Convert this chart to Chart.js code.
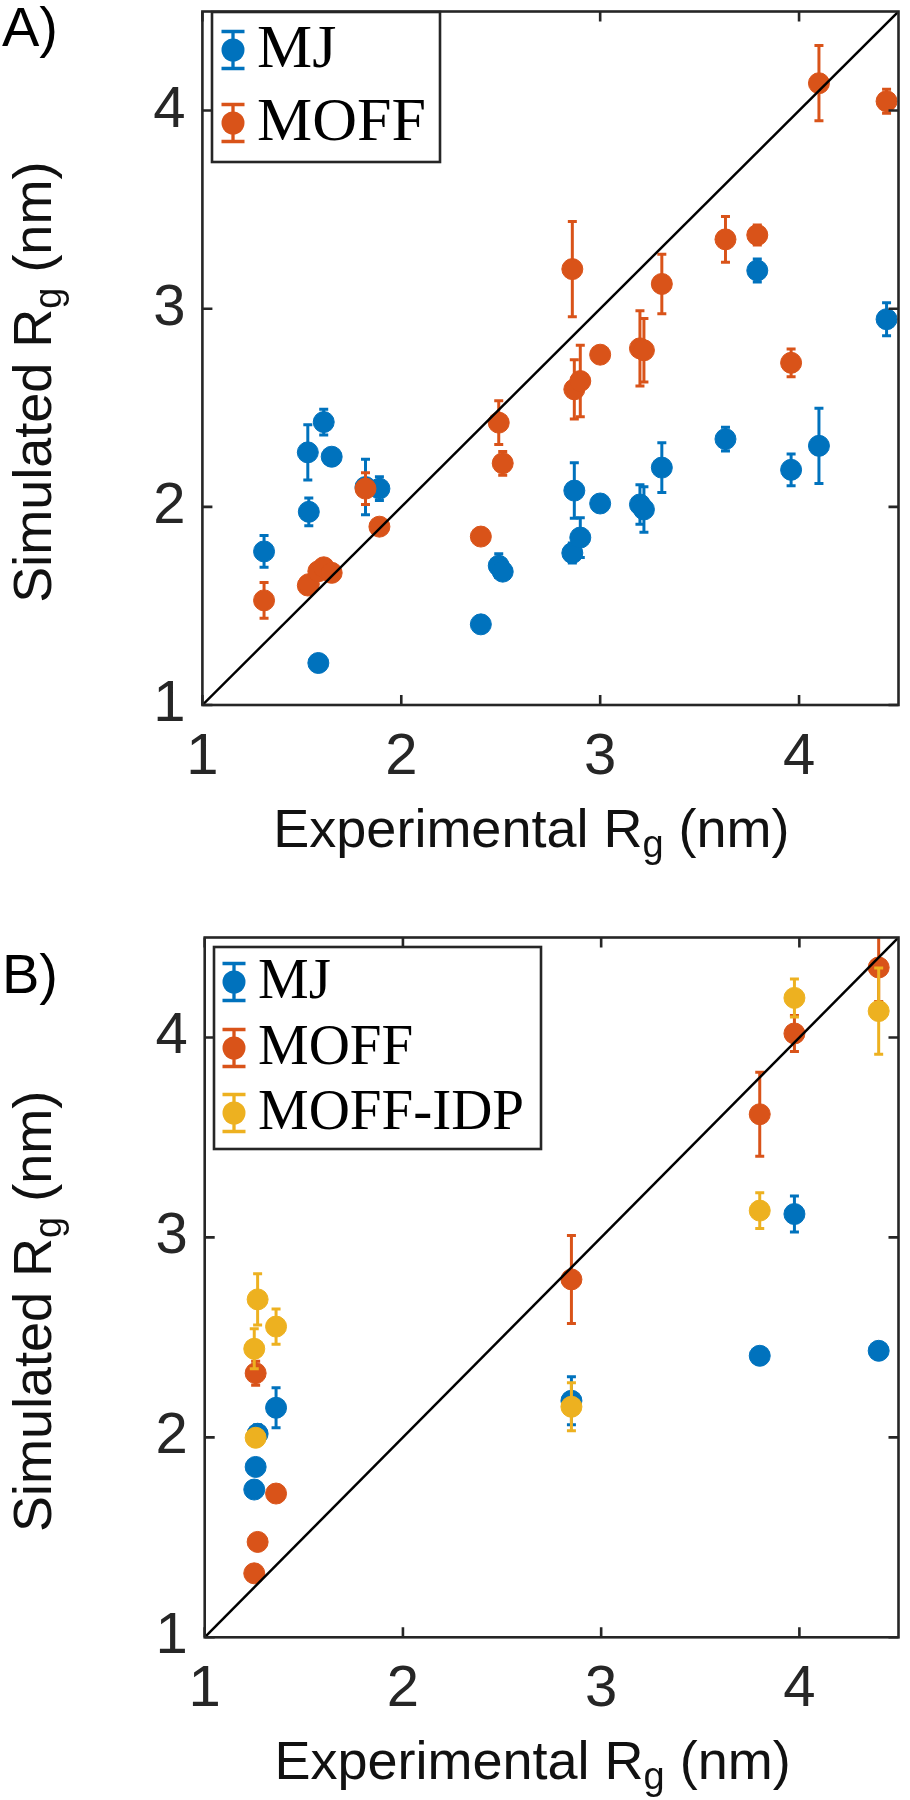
<!DOCTYPE html>
<html>
<head>
<meta charset="utf-8">
<script src="https://cdn.jsdelivr.net/npm/chart.js@4.4.1/dist/chart.umd.min.js"></script>
<style>
body { margin: 0; background: #fff; }
canvas { display: block; }
</style>
</head>
<body>
<canvas id="chartA" width="910" height="900"></canvas>
<canvas id="chartB" width="910" height="900"></canvas>
<script>

// ---- panel A: experimental vs simulated Rg (nm), two force fields ----
const expA     = [1.31, 1.53, 1.535, 1.583, 1.61, 1.65, 1.82, 1.89, 2.40, 2.49, 2.51, 2.86, 2.87, 2.90, 3.00, 3.20, 3.22, 3.31, 3.63, 3.79, 3.96, 4.10, 4.44];
const mjA      = [1.775, 2.275, 1.975, 1.212, 2.428, 2.253, 2.10, 2.092, 1.407, 1.703, 1.673, 1.767, 2.082, 1.845, 2.017, 2.012, 1.987, 2.198, 2.342, 3.193, 2.187, 2.308, 2.947];
const mjErrA   = [0.08, 0.14, 0.07, 0.03, 0.065, 0.03, 0.14, 0.06, 0.03, 0.06, 0.04, 0.05, 0.14, 0.10, 0.03, 0.10, 0.115, 0.125, 0.06, 0.058, 0.08, 0.19, 0.083];
const moffA    = [1.528, 1.603, 1.61, 1.675, 1.695, 1.667, 2.092, 1.90, 1.85, 2.425, 2.22, 3.20, 2.593, 2.635, 2.768, 2.80, 2.79, 3.125, 3.35, 3.372, 2.727, 4.138, 4.047];
const moffErrA = [0.09, 0.03, 0.03, 0.03, 0.03, 0.03, 0.08, 0.03, 0.03, 0.11, 0.06, 0.24, 0.15, 0.18, 0.04, 0.19, 0.16, 0.15, 0.115, 0.05, 0.07, 0.19, 0.06];

// ---- panel B: IDP set, three force fields ----
const expB     = [1.25, 1.257, 1.267, 1.36, 2.85, 3.80, 3.975, 4.40];
const mjB      = [1.739, 1.852, 2.018, 2.148, 2.183, 2.408, 3.117, 2.433];
const mjErrB   = [0.03, 0.03, 0.045, 0.10, 0.12, 0.035, 0.09, 0.035];
const moffB    = [1.32, 2.321, 1.477, 1.719, 2.79, 3.616, 4.02, 4.35];
const moffErrB = [0.03, 0.06, 0.03, 0.03, 0.22, 0.21, 0.09, 0.17];
const idpB     = [2.443, 1.998, 2.69, 2.554, 2.153, 3.134, 4.198, 4.132];
const idpErrB  = [0.10, 0.03, 0.128, 0.088, 0.12, 0.09, 0.095, 0.216];

const diagLine = [1, 4.5];
const axisTicks = [1, 2, 3, 4];

const xTitle = ['Experimental R', 'g', ' (nm)'];
const yTitle = ['Simulated R', 'g', ' (nm)'];

const blue = '#0072BD', orange = '#D95319', yellow = '#EDB120', axisGray = '#262626';
const sans = '"Liberation Sans", Arial, Helvetica, sans-serif';
const serif = '"Liberation Serif", "Times New Roman", serif';

function toPoints(xs, ys) {
    return xs.map((x, i) => ({ x: x, y: ys[i] }));
}

function series(label, xs, ys, errs, color, order) {
    return {
        type: 'scatter',
        label: label,
        data: toPoints(xs, ys),
        err: errs,
        showLine: false,
        pointRadius: 10.5,
        pointHoverRadius: 10.5,
        backgroundColor: color,
        borderColor: color,
        borderWidth: 1,
        order: order
    };
}

function diagonal() {
    return {
        type: 'line',
        label: 'y = x',
        data: toPoints(diagLine, diagLine),
        borderColor: '#000',
        borderWidth: 2.5,
        pointRadius: 0,
        fill: false,
        order: 0
    };
}

// text with a subscript, centred on cx
function drawSub(ctx, parts, size, cx, base) {
    const sub = Math.round(size * 0.7);
    ctx.font = size + 'px ' + sans;
    const w0 = ctx.measureText(parts[0]).width;
    const w2 = ctx.measureText(parts[2]).width;
    ctx.font = sub + 'px ' + sans;
    const w1 = ctx.measureText(parts[1]).width;
    let x = cx - (w0 + w1 + w2) / 2;
    ctx.textAlign = 'left';
    ctx.textBaseline = 'alphabetic';
    ctx.font = size + 'px ' + sans;
    ctx.fillText(parts[0], x, base);
    x += w0;
    ctx.font = sub + 'px ' + sans;
    ctx.fillText(parts[1], x, base + size * 0.18);
    x += w1;
    ctx.font = size + 'px ' + sans;
    ctx.fillText(parts[2], x, base);
}

const rgPlugin = {
    id: 'rgPlot',
    // error bars go under each series' own markers
    beforeDatasetDraw(chart, args) {
        const ds = chart.data.datasets[args.index];
        if (!ds.err) return;
        const ctx = chart.ctx, xs = chart.scales.x, ys = chart.scales.y, a = chart.chartArea;
        ctx.save();
        ctx.beginPath();
        ctx.rect(a.left, a.top, a.right - a.left, a.bottom - a.top);
        ctx.clip();
        ctx.strokeStyle = ds.borderColor;
        ctx.lineWidth = 3;
        ds.data.forEach((p, i) => {
            const px = xs.getPixelForValue(p.x);
            const top = ys.getPixelForValue(p.y + ds.err[i]);
            const bot = ys.getPixelForValue(p.y - ds.err[i]);
            ctx.beginPath();
            ctx.moveTo(px, top); ctx.lineTo(px, bot);
            ctx.moveTo(px - 4.5, top); ctx.lineTo(px + 4.5, top);
            ctx.moveTo(px - 4.5, bot); ctx.lineTo(px + 4.5, bot);
            ctx.stroke();
        });
        ctx.restore();
    },
    afterDraw(chart, args, opts) {
        const ctx = chart.ctx, xs = chart.scales.x, ys = chart.scales.y, a = chart.chartArea;
        ctx.save();

        // box + inward ticks
        ctx.strokeStyle = axisGray;
        ctx.lineWidth = 2.6;
        ctx.strokeRect(a.left, a.top, a.right - a.left, a.bottom - a.top);
        ctx.beginPath();
        xs.ticks.forEach(t => {
            const px = xs.getPixelForValue(t.value);
            ctx.moveTo(px, a.bottom); ctx.lineTo(px, a.bottom - 10);
            ctx.moveTo(px, a.top); ctx.lineTo(px, a.top + 10);
        });
        ys.ticks.forEach(t => {
            const py = ys.getPixelForValue(t.value);
            ctx.moveTo(a.left, py); ctx.lineTo(a.left + 10, py);
            ctx.moveTo(a.right, py); ctx.lineTo(a.right - 10, py);
        });
        ctx.stroke();

        // axis titles
        ctx.fillStyle = '#111';
        drawSub(ctx, xTitle, 54, (a.left + a.right) / 2 - 19, a.bottom + 142);
        ctx.save();
        ctx.translate(51, (a.top + a.bottom) / 2 + 24);
        ctx.rotate(-Math.PI / 2);
        drawSub(ctx, yTitle, 54, 0, 0);
        ctx.restore();

        // panel letter
        ctx.font = '56px ' + sans;
        ctx.textAlign = 'left';
        ctx.fillStyle = '#000';
        ctx.fillText(opts.panel, 2, opts.panelY);

        // legend
        const lg = opts.legend;
        ctx.fillStyle = '#fff';
        ctx.fillRect(lg.left, lg.top, lg.right - lg.left, lg.bottom - lg.top);
        ctx.strokeStyle = axisGray;
        ctx.lineWidth = 2.6;
        ctx.strokeRect(lg.left, lg.top, lg.right - lg.left, lg.bottom - lg.top);
        const items = chart.data.datasets.filter(d => d.err);
        items.forEach((d, i) => {
            const cy = lg.rows[i];
            ctx.strokeStyle = d.borderColor;
            ctx.lineWidth = 3.3;
            ctx.beginPath();
            ctx.moveTo(lg.iconX, cy - 18.5); ctx.lineTo(lg.iconX, cy + 18.5);
            ctx.moveTo(lg.iconX - 11.5, cy - 18.5); ctx.lineTo(lg.iconX + 11.5, cy - 18.5);
            ctx.moveTo(lg.iconX - 11.5, cy + 18.5); ctx.lineTo(lg.iconX + 11.5, cy + 18.5);
            ctx.stroke();
            ctx.fillStyle = d.backgroundColor;
            ctx.beginPath();
            ctx.arc(lg.iconX, cy, 11.5, 0, Math.PI * 2);
            ctx.fill();
            ctx.fillStyle = '#000';
            ctx.font = lg.font + 'px ' + serif;
            ctx.textBaseline = 'alphabetic';
            ctx.fillText(d.label, lg.textX, cy + lg.font * 0.275);
        });
        ctx.restore();
    }
};

function makeChart(id, datasets, box, extra) {
    return new Chart(document.getElementById(id), {
        type: 'scatter',
        data: { datasets: datasets },
        options: {
            responsive: false,
            animation: false,
            events: [],
            layout: { padding: { left: 0, top: box.top, right: box.right, bottom: 0 } },
            scales: {
                x: {
                    type: 'linear',
                    min: 1,
                    max: 4.5,
                    grid: { display: false, drawTicks: false },
                    border: { display: false },
                    ticks: {
                        stepSize: 1,
                        includeBounds: false,
                        autoSkip: false,
                        maxRotation: 0,
                        padding: 24,
                        color: axisGray,
                        font: { family: sans, size: 58, lineHeight: 1 },
                        callback: v => axisTicks.includes(v) ? String(v) : ''
                    },
                    afterFit: s => {
                        s.height = box.xHeight;
                        s.paddingLeft = s.paddingRight = s.paddingTop = s.paddingBottom = 0;
                    }
                },
                y: {
                    type: 'linear',
                    min: 1,
                    max: 4.5,
                    grid: { display: false, drawTicks: false },
                    border: { display: false },
                    ticks: {
                        stepSize: 1,
                        includeBounds: false,
                        autoSkip: false,
                        padding: 17,
                        color: axisGray,
                        font: { family: sans, size: 58, lineHeight: 1 },
                        callback: v => axisTicks.includes(v) ? String(v) : ''
                    },
                    afterFit: s => {
                        s.width = box.yWidth;
                        s.paddingLeft = s.paddingRight = s.paddingTop = s.paddingBottom = 0;
                    }
                }
            },
            plugins: {
                legend: { display: false },
                tooltip: { enabled: false },
                rgPlot: extra
            }
        },
        plugins: [rgPlugin]
    });
}

makeChart('chartA', [
    series('MJ', expA, mjA, mjErrA, blue, 3),
    series('MOFF', expA, moffA, moffErrA, orange, 2),
    diagonal()
], { top: 4, right: 3, yWidth: 202.4, xHeight: 195 }, {
    panel: 'A)',
    panelY: 46,
    legend: { left: 212, top: 12, right: 440, bottom: 162, rows: [50, 123], iconX: 233, textX: 257, font: 62 }
});

makeChart('chartB', [
    series('MJ', expB, mjB, mjErrB, blue, 3),
    series('MOFF', expB, moffB, moffErrB, orange, 2),
    series('MOFF-IDP', expB, idpB, idpErrB, yellow, 1),
    diagonal()
], { top: 37.5, right: 5, yWidth: 204.7, xHeight: 162.7 }, {
    panel: 'B)',
    panelY: 93,
    legend: { left: 214, top: 47, right: 541, bottom: 249, rows: [82, 148, 213], iconX: 234, textX: 258, font: 57 }
});
</script>
</body>
</html>
